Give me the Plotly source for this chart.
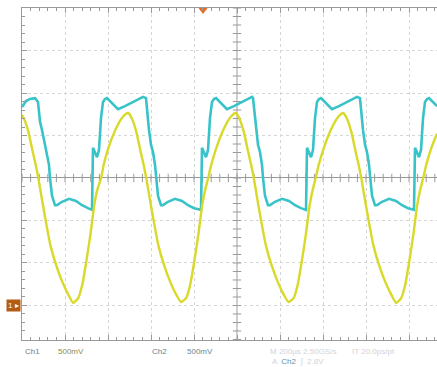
import numpy as np
import plotly.graph_objects as go

# ---- data (time in divisions, amplitude in divisions) ----
ch1_t = [0.00, 0.05, 0.15, 0.24, 0.31, 0.38, 0.45, 0.54, 0.66, 0.80, 0.94, 1.08, 1.19, 1.31, 1.40, 1.49,
         1.59, 1.68, 1.75, 1.84, 1.90, 2.01, 2.15, 2.29, 2.38,
         2.47, 2.56, 2.66, 2.75, 2.82, 2.89, 2.96, 3.05, 3.17, 3.31, 3.45, 3.59, 3.70, 3.82, 3.91, 4.00,
         4.10, 4.19, 4.26, 4.33, 4.40, 4.52, 4.66, 4.80, 4.89,
         4.97, 5.06, 5.16, 5.25, 5.32, 5.39, 5.46, 5.55, 5.67, 5.81, 5.95, 6.09, 6.20, 6.32, 6.41, 6.50,
         6.60, 6.69, 6.76, 6.83, 6.90, 7.02, 7.16, 7.30, 7.39,
         7.47, 7.56, 7.66, 7.75, 7.82, 7.89, 7.96, 8.05, 8.17, 8.31, 8.45, 8.59, 8.70, 8.82, 8.91, 9.00,
         9.10, 9.19, 9.26, 9.33, 9.40, 9.52, 9.65]
ch1_v = [1.48, 1.39, 1.08, 0.66, 0.35, 0.00, -0.42, -0.94, -1.58, -2.07, -2.45, -2.75, -2.94, -2.82, -2.52, -2.00,
         -1.34, -0.64, -0.28, 0.00, 0.31, 0.71, 1.08, 1.36, 1.48,
         1.53, 1.39, 1.08, 0.66, 0.35, 0.00, -0.42, -0.94, -1.58, -2.07, -2.45, -2.75, -2.92, -2.82, -2.52, -2.00,
         -1.34, -0.64, -0.28, 0.00, 0.31, 0.71, 1.08, 1.36, 1.48,
         1.53, 1.39, 1.08, 0.66, 0.35, 0.00, -0.42, -0.94, -1.58, -2.07, -2.45, -2.75, -2.92, -2.82, -2.52, -2.00,
         -1.34, -0.64, -0.28, 0.00, 0.31, 0.71, 1.08, 1.36, 1.48,
         1.53, 1.39, 1.08, 0.66, 0.35, 0.00, -0.42, -0.94, -1.58, -2.07, -2.45, -2.75, -2.94, -2.82, -2.52, -2.00,
         -1.34, -0.64, -0.28, 0.00, 0.31, 0.71, 1.04]

ch2_t = [0.000, 0.093, 0.186, 0.302, 0.372, 0.419, 0.465, 0.535, 0.581, 0.628, 0.651, 0.698, 0.767, 0.814,
         0.930, 1.093, 1.256, 1.395, 1.535, 1.628, 1.651, 1.698, 1.744, 1.791, 1.837, 1.884, 1.930, 1.977,
         2.093, 2.233, 2.395, 2.581, 2.744, 2.814, 2.884, 2.930, 2.953, 3.000, 3.047, 3.093, 3.116, 3.163,
         3.233, 3.279, 3.395, 3.558, 3.721, 3.860, 4.000, 4.163, 4.186, 4.233, 4.279, 4.326, 4.372, 4.419,
         4.465, 4.512, 4.628, 4.767, 4.930, 5.116, 5.279, 5.349, 5.372, 5.419, 5.442, 5.488, 5.535, 5.581,
         5.605, 5.651, 5.721, 5.767, 5.884, 6.047, 6.209, 6.349, 6.488, 6.605, 6.628, 6.674, 6.721, 6.767,
         6.814, 6.860, 6.907, 6.953, 7.070, 7.209, 7.372, 7.558, 7.721, 7.791, 7.860, 7.907, 7.930, 7.977,
         8.023, 8.070, 8.093, 8.140, 8.209, 8.256, 8.372, 8.535, 8.698, 8.837, 8.977, 9.116, 9.140, 9.186,
         9.233, 9.279, 9.326, 9.372, 9.419, 9.465, 9.581, 9.651]
ch2_v = [1.67, 1.81, 1.86, 1.88, 1.79, 1.32, 1.13, 0.78, 0.61, 0.31, 0.00, -0.42, -0.64, -0.64,
         -0.56, -0.49, -0.54, -0.64, -0.71, -0.75, 0.71, 0.61, 0.49, 0.66, 1.41, 1.79, 1.86, 1.88,
         1.76, 1.62, 1.69, 1.79, 1.86, 1.91, 1.88, 1.36, 1.13, 0.78, 0.61, 0.31, 0.00, -0.42,
         -0.64, -0.64, -0.56, -0.49, -0.54, -0.64, -0.71, -0.75, 0.71, 0.61, 0.49, 0.66, 1.41, 1.79,
         1.86, 1.88, 1.76, 1.62, 1.69, 1.79, 1.86, 1.91, 1.88, 1.36, 1.13, 0.78, 0.61, 0.31,
         0.00, -0.42, -0.64, -0.64, -0.56, -0.49, -0.54, -0.64, -0.71, -0.75, 0.71, 0.61, 0.49, 0.66,
         1.41, 1.79, 1.86, 1.88, 1.76, 1.62, 1.69, 1.79, 1.86, 1.91, 1.88, 1.36, 1.13, 0.78,
         0.61, 0.31, 0.00, -0.42, -0.64, -0.64, -0.56, -0.49, -0.54, -0.64, -0.71, -0.75, 0.71, 0.61,
         0.49, 0.66, 1.41, 1.79, 1.86, 1.88, 1.76, 1.69]

ch1_ground = -3.0
trigger_pos = 4.21
x_range = [0, 9.651]
y_range = [-3.812, 4.0]
center_t = 5.0

YELLOW = "#d9d92a"
CYAN = "#38c3c9"
GRID = "#d6d6d6"
AXC = "#9a9a9a"

fig = go.Figure()

# centre graticule ticks
tick_x = np.round(np.arange(0, 9.7, 0.2), 2)
tick_y = np.round(np.arange(-3.8, 4.01, 0.2), 2)
fig.add_trace(go.Scatter(x=tick_x, y=[0] * len(tick_x), mode="markers", hoverinfo="skip",
                         marker=dict(symbol="line-ns", size=6, line=dict(color=AXC, width=1))))
fig.add_trace(go.Scatter(x=[center_t] * len(tick_y), y=tick_y, mode="markers", hoverinfo="skip",
                         marker=dict(symbol="line-ew", size=6, line=dict(color=AXC, width=1))))

fig.add_trace(go.Scatter(x=ch2_t, y=ch2_v, mode="lines", name="Ch2",
                         line=dict(color=CYAN, width=2.6)))
fig.add_trace(go.Scatter(x=ch1_t, y=ch1_v, mode="lines", name="Ch1",
                         line=dict(color=YELLOW, width=2.4, shape="spline", smoothing=0.5)))

# trigger marker at top
fig.add_trace(go.Scatter(x=[trigger_pos], y=[y_range[1] - 0.05], mode="markers", cliponaxis=False,
                         hoverinfo="skip",
                         marker=dict(symbol="triangle-down", size=8, color="#ee6a1c")))

fig.add_shape(type="line", xref="x", yref="paper", x0=center_t, x1=center_t, y0=0, y1=1,
              line=dict(color=AXC, width=1), layer="below")

fig.add_annotation(x=0, y=ch1_ground, xref="x", yref="y", xanchor="right", yanchor="middle",
                   text="1 ▸", showarrow=False, bgcolor="#b35d14",
                   font=dict(color="white", size=8, family="Liberation Sans"), borderpad=1, xshift=-1)

txt = dict(family="Liberation Sans", size=8)
labels = [
    (0.02, "Ch1", "#7d7d5a"), (0.80, "500mV", "#8a8a55"),
    (2.98, "Ch2", "#5a7f90"), (3.79, "500mV", "#6a8794"),
    (5.72, "M 200µs 2.50GS/s", "#d2d2da"), (7.63, "IT 20.0ps/pt", "#d2d2da"),
]
for x, t, c in labels:
    fig.add_annotation(x=x, y=-0.036, xref="x", yref="paper", xanchor="left", yanchor="middle",
                       text=t, showarrow=False, font=dict(color=c, **txt))
fig.add_annotation(x=5.77, y=-0.066, xref="x", yref="paper", xanchor="left", yanchor="middle",
                   text="A  <span style='color:#6a8fa3'>Ch2</span>  ∫  2.8V", showarrow=False,
                   font=dict(color="#d2d2da", **txt))

fig.update_layout(
    width=437, height=367, margin=dict(l=22, r=0, t=8, b=27),
    paper_bgcolor="white", plot_bgcolor="white", showlegend=False,
    xaxis=dict(range=x_range, tick0=0, dtick=1, showticklabels=False, ticks="inside", ticklen=5,
               tickcolor=AXC, showline=True, linecolor=AXC, mirror="ticks",
               showgrid=True, gridcolor=GRID, griddash="dot", gridwidth=1, zeroline=False,
               minor=dict(dtick=0.2, ticks="inside", ticklen=3, tickcolor=AXC, showgrid=False)),
    yaxis=dict(range=y_range, tick0=0, dtick=1, showticklabels=False, ticks="inside", ticklen=5,
               tickcolor=AXC, showline=True, linecolor=AXC, mirror=False,
               showgrid=True, gridcolor=GRID, griddash="dot", gridwidth=1,
               zeroline=True, zerolinecolor=AXC, zerolinewidth=1,
               minor=dict(dtick=0.2, ticks="inside", ticklen=3, tickcolor=AXC, showgrid=False)),
)

fig.write_html("out.html")
